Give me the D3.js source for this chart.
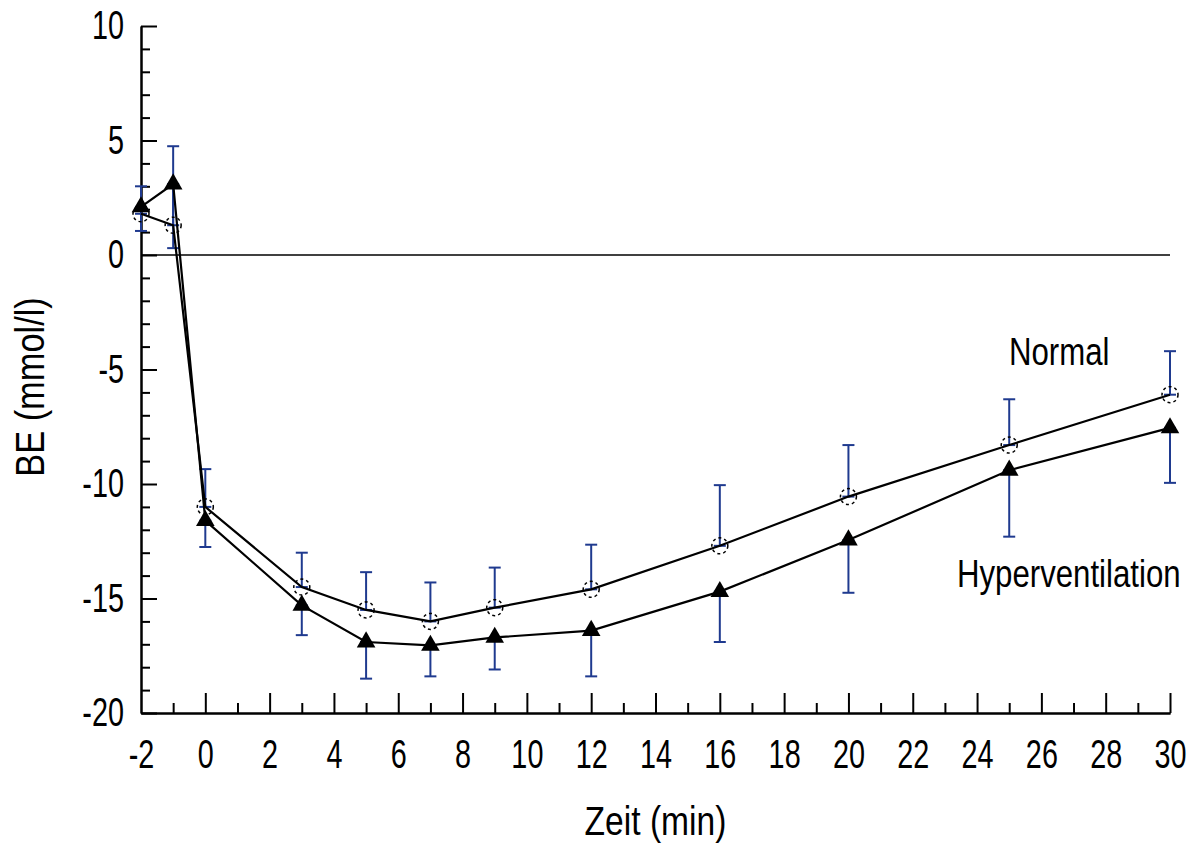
<!DOCTYPE html>
<html>
<head>
<meta charset="utf-8">
<script src="https://cdn.jsdelivr.net/npm/d3@7"></script>
<style>
  body { margin: 0; background: #fff; }
  svg { display: block; font-family: "Liberation Sans", Arial, sans-serif; }
</style>
</head>
<body>
<svg width="1196" height="844"></svg>
<script>
//data
const time = [-2, -1, 0, 3, 5, 7, 9, 12, 16, 20, 25, 30];
const normal = [1.8, 1.3, -11.0, -14.5, -15.5, -16.0, -15.4, -14.6, -12.7, -10.55, -8.3, -6.1];
const normalSD = [1.2, 3.45, 1.65, 1.5, 1.65, 1.7, 1.75, 1.95, 2.65, 2.25, 2.0, 1.9];
const hyper = [2.1, 3.1, -11.6, -15.3, -16.9, -17.05, -16.7, -16.4, -14.7, -12.45, -9.4, -7.55];
const hyperSD = [1.05, 2.8, 1.15, 1.3, 1.6, 1.35, 1.4, 2.0, 2.2, 2.3, 2.9, 2.4];
const xMajor = d3.range(-2, 31, 2);
const xMinor = d3.range(-1, 30, 2);
const yMajor = [10, 5, 0, -5, -10, -15, -20];
const yMinor = d3.range(-19, 10).filter(v => v % 5 != 0);

//config
const svg = d3.select('svg');
const x = d3.scaleLinear().domain([-2, 30]).range([141, 1170]);
const y = d3.scaleLinear().domain([-20, 10]).range([713, 26]);
const navy = '#1f3a8f';
const plain = d => String(d); //hyphen minus, as in the original

//squeeze text horizontally like the narrow Helvetica of the original
const squeeze = (sel, k) => sel.each(function() {
	const t = d3.select(this);
	const tx = +t.attr('x') || 0, ty = +t.attr('y') || 0;
	t.attr('x', 0).attr('y', 0).attr('transform', `translate(${tx},${ty}) scale(${k},1)`);
});

//axes
const styleAxis = g => {
	g.selectAll('path, line').attr('stroke', '#000').attr('stroke-width', 2);
	g.selectAll('text').attr('fill', '#000').attr('font-size', 40);
};

svg.append('g')
	.attr('transform', `translate(0,${y(-20)})`)
	.call(d3.axisBottom(x).tickValues(xMinor).tickFormat('').tickSize(-10).tickSizeOuter(0))
	.call(styleAxis);

const gx = svg.append('g')
	.attr('transform', `translate(0,${y(-20)})`)
	.call(d3.axisBottom(x).tickValues(xMajor).tickFormat(plain).tickSize(-20).tickSizeOuter(0).tickPadding(27))
	.call(styleAxis);
gx.select('.tick:first-of-type line').remove();
squeeze(gx.selectAll('.tick text'), 0.72);

svg.append('g')
	.attr('transform', `translate(${x(-2)},0)`)
	.call(d3.axisLeft(y).tickValues(yMinor).tickFormat('').tickSize(-9).tickSizeOuter(0))
	.call(styleAxis);

const gy = svg.append('g')
	.attr('transform', `translate(${x(-2)},0)`)
	.call(d3.axisLeft(y).tickValues(yMajor).tickFormat(plain).tickSize(-16).tickSizeOuter(0).tickPadding(17))
	.call(styleAxis);
squeeze(gy.selectAll('.tick text'), 0.72);

//zero line
svg.append('line')
	.attr('x1', x(-2)).attr('x2', x(30))
	.attr('y1', y(0)).attr('y2', y(0))
	.attr('stroke', '#000').attr('stroke-width', 1.6);

//axis titles
svg.append('text')
	.attr('transform', `translate(${(x(-2) + x(30)) / 2},835) scale(0.84,1)`)
	.attr('text-anchor', 'middle').attr('font-size', 40)
	.text('Zeit (min)');

svg.append('text')
	.attr('transform', `translate(44,387) rotate(-90) scale(0.86,1)`)
	.attr('text-anchor', 'middle').attr('font-size', 40)
	.text('BE (mmol/l)');

//series
const series = [
	{ name: 'Normal', mean: normal, sd: normalSD, dir: 1 },
	{ name: 'Hyperventilation', mean: hyper, sd: hyperSD, dir: -1 }
];

//error bars (one sided: normal up, hyper down)
series.forEach(s => {
	const pts = time.map((t, i) => ({ t, m: s.mean[i], e: s.mean[i] + s.dir * s.sd[i] }));
	const g = svg.append('g').attr('stroke', navy).attr('stroke-width', 2);
	g.selectAll('line.bar').data(pts).enter().append('line')
		.attr('x1', d => x(d.t)).attr('x2', d => x(d.t))
		.attr('y1', d => y(d.m)).attr('y2', d => y(d.e));
	g.selectAll('line.capA').data(pts).enter().append('line')
		.attr('x1', d => x(d.t) - 6).attr('x2', d => x(d.t) + 6)
		.attr('y1', d => y(d.e)).attr('y2', d => y(d.e));
	g.selectAll('line.capB').data(pts).enter().append('line')
		.attr('x1', d => x(d.t) - 6).attr('x2', d => x(d.t) + 6)
		.attr('y1', d => y(d.m)).attr('y2', d => y(d.m));
});

//lines
const line = d3.line().x(d => x(d[0])).y(d => y(d[1]));
series.forEach(s => {
	svg.append('path')
		.datum(time.map((t, i) => [t, s.mean[i]]))
		.attr('d', line)
		.attr('fill', 'none').attr('stroke', '#000').attr('stroke-width', 2.2);
});

//markers
svg.append('g').selectAll('circle')
	.data(time.map((t, i) => [t, normal[i]]))
	.enter().append('circle')
	.attr('cx', d => x(d[0])).attr('cy', d => y(d[1])).attr('r', 8)
	.attr('fill', 'none').attr('stroke', '#000').attr('stroke-width', 1.5)
	.attr('stroke-dasharray', '3,3');

const tri = d3.symbol().type(d3.symbolTriangle).size(150);
svg.append('g').selectAll('path')
	.data(time.map((t, i) => [t, hyper[i]]))
	.enter().append('path')
	.attr('d', tri)
	.attr('transform', d => `translate(${x(d[0])},${y(d[1])})`)
	.attr('fill', '#000');

//series labels
svg.append('text')
	.attr('transform', 'translate(1009,365) scale(0.8,1)')
	.attr('font-size', 39).text('Normal');
svg.append('text')
	.attr('transform', 'translate(957,587) scale(0.8,1)')
	.attr('font-size', 39).text('Hyperventilation');
</script>
</body>
</html>
